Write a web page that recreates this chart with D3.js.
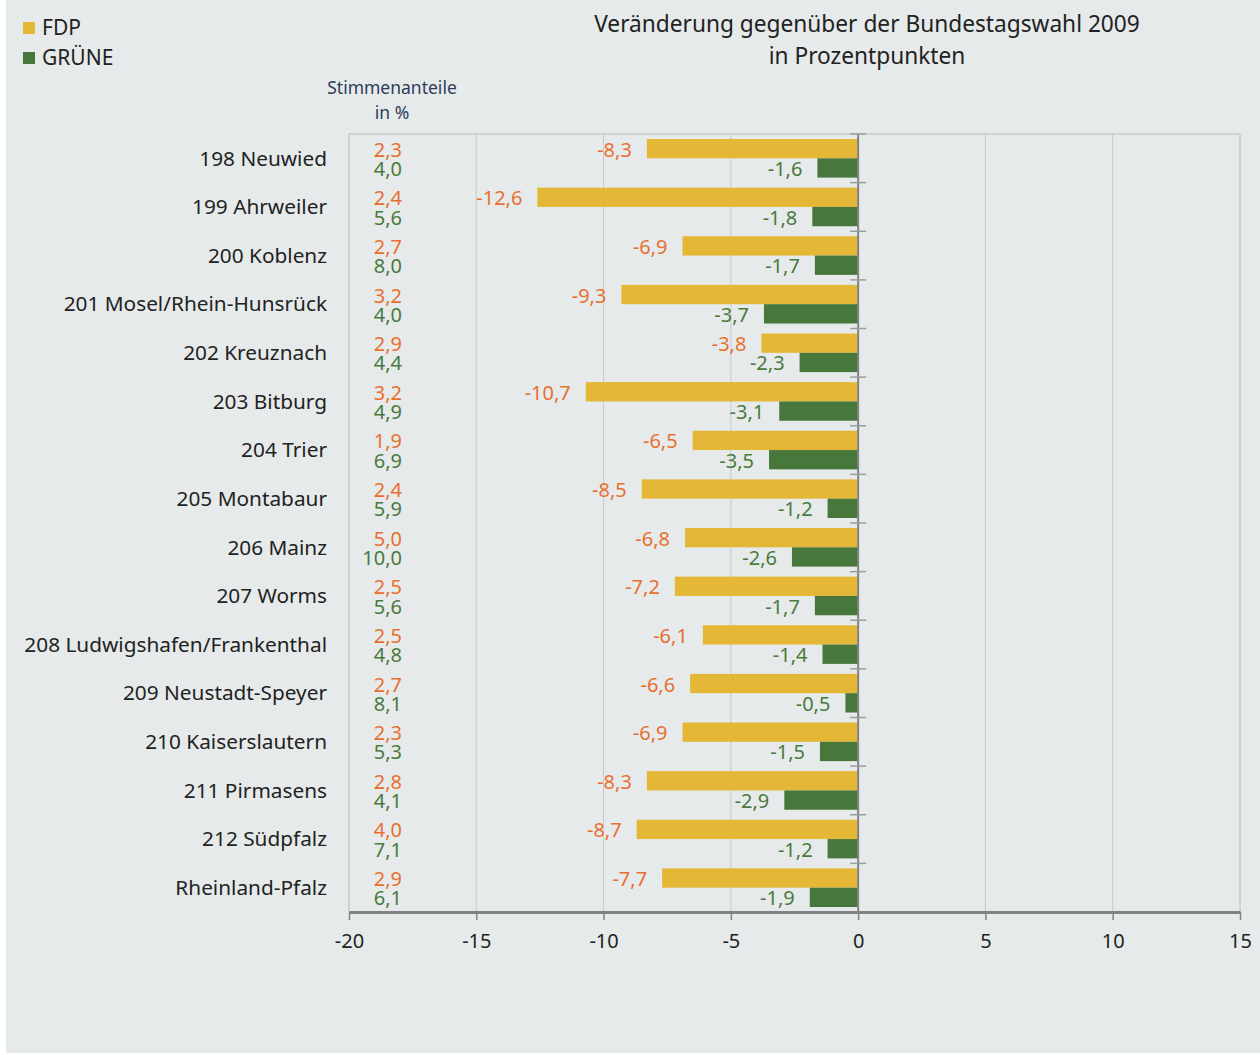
<!DOCTYPE html>
<html>
<head>
<meta charset="utf-8">
<script src="https://cdn.jsdelivr.net/npm/d3@7"></script>
<style>
  html, body { margin: 0; padding: 0; background: #ffffff; }
  svg { display: block; font-family: "Noto Sans", "Open Sans", sans-serif; }
</style>
</head>
<body>
<div id="chart"></div>
<script>
const districts = ["198 Neuwied", "199 Ahrweiler", "200 Koblenz", "201 Mosel/Rhein-Hunsrück",
  "202 Kreuznach", "203 Bitburg", "204 Trier", "205 Montabaur", "206 Mainz", "207 Worms",
  "208 Ludwigshafen/Frankenthal", "209 Neustadt-Speyer", "210 Kaiserslautern",
  "211 Pirmasens", "212 Südpfalz", "Rheinland-Pfalz"];
const fdpShare = [2.3, 2.4, 2.7, 3.2, 2.9, 3.2, 1.9, 2.4, 5.0, 2.5, 2.5, 2.7, 2.3, 2.8, 4.0, 2.9];
const grueneShare = [4.0, 5.6, 8.0, 4.0, 4.4, 4.9, 6.9, 5.9, 10.0, 5.6, 4.8, 8.1, 5.3, 4.1, 7.1, 6.1];
const fdpChange = [-8.3, -12.6, -6.9, -9.3, -3.8, -10.7, -6.5, -8.5, -6.8, -7.2, -6.1, -6.6, -6.9, -8.3, -8.7, -7.7];
const grueneChange = [-1.6, -1.8, -1.7, -3.7, -2.3, -3.1, -3.5, -1.2, -2.6, -1.7, -1.4, -0.5, -1.5, -2.9, -1.2, -1.9];
const xTicks = [-20, -15, -10, -5, 0, 5, 10, 15];
const parties = ["FDP", "GRÜNE"];

const width = 1260, height = 1055;
const plot = {left: 349, right: 1240, top: 134, bottom: 912};
const fdpColor = "#e5b737", grueneColor = "#48773c";
const orangeText = "#e8702f", greenText = "#4a7a3c";
const fmt = v => v.toFixed(1).replace(".", ",");

const svg = d3.select("#chart").append("svg")
  .attr("width", width)
  .attr("height", height);

svg.append("rect")
  .attr("x", 6).attr("y", 0)
  .attr("width", width - 6).attr("height", 1053)
  .attr("fill", "#e6eaeb");

const x = d3.scaleLinear().domain([-20, 15]).range([plot.left, plot.right]);
const y = d3.scaleBand().domain(districts).range([plot.top, plot.bottom]);
const sub = d3.scaleBand().domain(parties).range([5, y.bandwidth() - 5]);

// grid
svg.append("g").selectAll("line")
  .data(xTicks.filter(d => d !== 0))
  .enter().append("line")
  .attr("x1", d => x(d)).attr("x2", d => x(d))
  .attr("y1", plot.top).attr("y2", plot.bottom)
  .attr("stroke", "#c6cacb")
  .attr("stroke-width", d => (d === 15 || d === -20) ? 1.5 : 1);

svg.append("line")
  .attr("x1", plot.left).attr("x2", plot.right)
  .attr("y1", plot.top).attr("y2", plot.top)
  .attr("stroke", "#c6cacb").attr("stroke-width", 1.5);

// legend
const legend = svg.append("g").selectAll("g")
  .data(parties)
  .enter().append("g")
  .attr("transform", (d, i) => `translate(23, ${22 + i * 30})`);
legend.append("rect")
  .attr("width", 12).attr("height", 12)
  .attr("fill", (d, i) => i === 0 ? fdpColor : grueneColor);
legend.append("text")
  .attr("x", 19).attr("y", 6).attr("dy", "0.35em")
  .attr("font-size", 21).attr("fill", "#222")
  .text(d => d);

// title
const title = svg.append("text")
  .attr("text-anchor", "middle")
  .attr("font-size", 22.7).attr("fill", "#222");
title.append("tspan").attr("x", 867).attr("y", 32).text("Veränderung gegenüber der Bundestagswahl 2009");
title.append("tspan").attr("x", 867).attr("y", 64).text("in Prozentpunkten");

const sub1 = svg.append("text")
  .attr("text-anchor", "middle")
  .attr("font-size", 17.5).attr("fill", "#2b3d58");
sub1.append("tspan").attr("x", 392).attr("y", 94).text("Stimmenanteile");
sub1.append("tspan").attr("x", 392).attr("y", 119).text("in %");

// rows
const rows = svg.append("g").selectAll("g")
  .data(districts)
  .enter().append("g")
  .attr("transform", d => `translate(0, ${y(d)})`);

rows.append("text")
  .attr("x", 327).attr("y", y.bandwidth() / 2).attr("dy", "0.35em")
  .attr("text-anchor", "end")
  .attr("font-size", 20.8).attr("fill", "#222")
  .text(d => d);

rows.append("text")
  .attr("x", 402).attr("y", sub("FDP") + sub.bandwidth() / 2 + 1).attr("dy", "0.35em")
  .attr("text-anchor", "end")
  .attr("font-size", 20).attr("fill", orangeText)
  .text((d, i) => fmt(fdpShare[i]));

rows.append("text")
  .attr("x", 402).attr("y", sub("GRÜNE") + sub.bandwidth() / 2 + 1).attr("dy", "0.35em")
  .attr("text-anchor", "end")
  .attr("font-size", 20).attr("fill", greenText)
  .text((d, i) => fmt(grueneShare[i]));

rows.append("rect")
  .attr("x", (d, i) => x(fdpChange[i]))
  .attr("width", (d, i) => x(0) - x(fdpChange[i]))
  .attr("y", sub("FDP"))
  .attr("height", sub.bandwidth())
  .attr("fill", fdpColor);

rows.append("rect")
  .attr("x", (d, i) => x(grueneChange[i]))
  .attr("width", (d, i) => x(0) - x(grueneChange[i]))
  .attr("y", sub("GRÜNE"))
  .attr("height", sub.bandwidth())
  .attr("fill", grueneColor);

rows.append("text")
  .attr("x", (d, i) => x(fdpChange[i]) - 15)
  .attr("y", sub("FDP") + sub.bandwidth() / 2 + 1).attr("dy", "0.35em")
  .attr("text-anchor", "end")
  .attr("font-size", 20).attr("fill", orangeText)
  .text((d, i) => fmt(fdpChange[i]));

rows.append("text")
  .attr("x", (d, i) => x(grueneChange[i]) - 15)
  .attr("y", sub("GRÜNE") + sub.bandwidth() / 2 + 1).attr("dy", "0.35em")
  .attr("text-anchor", "end")
  .attr("font-size", 20).attr("fill", greenText)
  .text((d, i) => fmt(grueneChange[i]));

// zero axis with band ticks
const zero = svg.append("g");
zero.append("line")
  .attr("x1", x(0)).attr("x2", x(0))
  .attr("y1", plot.top).attr("y2", plot.bottom)
  .attr("stroke", "#808384").attr("stroke-width", 2);
zero.selectAll("line.tick")
  .data(districts)
  .enter().append("line")
  .attr("class", "tick")
  .attr("x1", x(0) - 8).attr("x2", x(0) + 8)
  .attr("y1", d => y(d)).attr("y2", d => y(d))
  .attr("stroke", "#9a9d9e").attr("stroke-width", 1.5);

// bottom axis
const xAxis = svg.append("g")
  .attr("transform", `translate(0, ${plot.bottom})`)
  .call(d3.axisBottom(x).tickValues(xTicks).tickSize(8).tickSizeOuter(0).tickFormat(d => String(d)));
xAxis.select(".domain").attr("stroke", "#808384").attr("stroke-width", 3);
xAxis.selectAll(".tick line").attr("stroke", "#808384").attr("stroke-width", 1.5);
xAxis.selectAll(".tick text")
  .attr("y", 22).attr("dy", "0.71em")
  .attr("font-size", 20).attr("fill", "#222")
  .attr("font-family", "Noto Sans, sans-serif");
</script>
</body>
</html>
